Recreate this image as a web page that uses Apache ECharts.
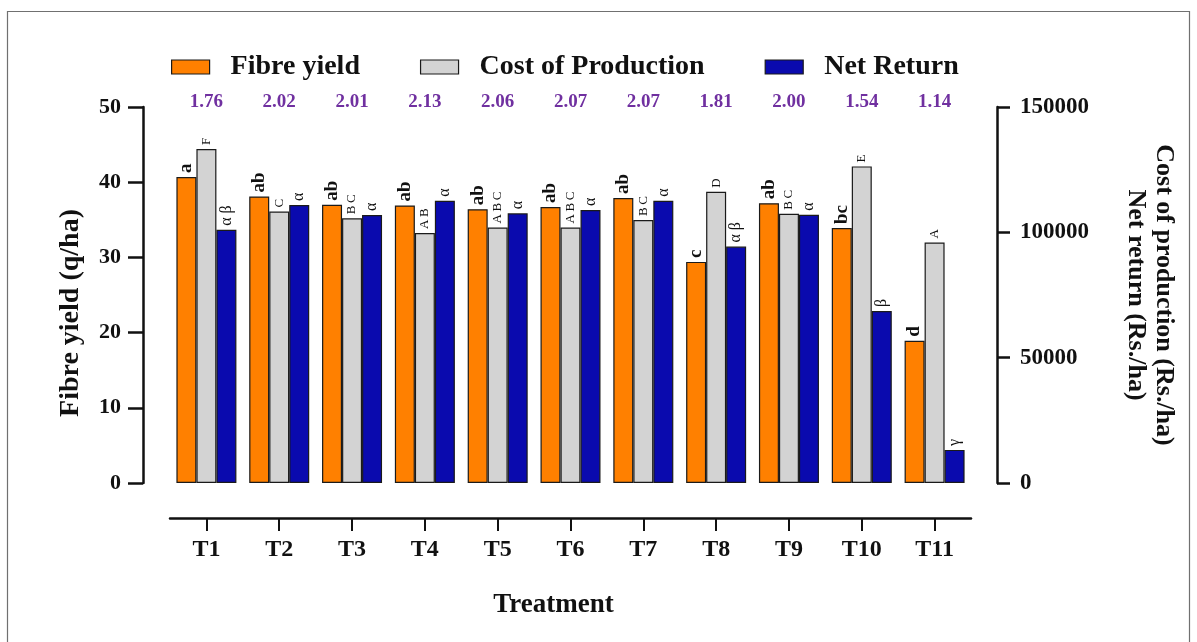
<!DOCTYPE html>
<html>
<head>
<meta charset="utf-8">
<script src="https://cdn.jsdelivr.net/npm/echarts@6/dist/echarts.min.js"></script>
<style>
  html, body { margin: 0; padding: 0; background: #ffffff; }
  #chart { width: 1197px; height: 642px; }
</style>
</head>
<body>
<div id="chart"></div>
<script>
// Treatments on the x axis
const treatments = ['T1', 'T2', 'T3', 'T4', 'T5', 'T6', 'T7', 'T8', 'T9', 'T10', 'T11'];

// Fibre yield (q/ha), left axis
const fibreYield = [40.7, 38.1, 37.0, 36.9, 36.4, 36.7, 37.9, 29.4, 37.2, 33.9, 18.9];
// Cost of production and net return (Rs./ha), right axis
const costOfProduction = [133200, 108300, 105600, 99700, 101900, 101900, 104900, 116200, 107400, 126300, 95900];
const netReturn = [101000, 110900, 106900, 112600, 107600, 108900, 112600, 94300, 107000, 68600, 13200];

// Benefit : cost ratio shown above each treatment
const bcRatio = [1.76, 2.02, 2.01, 2.13, 2.06, 2.07, 2.07, 1.81, 2.00, 1.54, 1.14];

// Significance groupings printed above the bars
const fibreLetters = ['a', 'ab', 'ab', 'ab', 'ab', 'ab', 'ab', 'c', 'ab', 'bc', 'd'];
const costLetters = ['F', 'C', 'B\u2009C', 'A\u2009B', 'A\u2009B\u2009C', 'A\u2009B\u2009C', 'B\u2009C', 'D', 'B\u2009C', 'E', 'A'];
const returnLetters = ['\u03b1 \u03b2', '\u03b1', '\u03b1', '\u03b1', '\u03b1', '\u03b1', '\u03b1', '\u03b1 \u03b2', '\u03b1', '\u03b2', '\u03b3'];

const SERIF = '"Liberation Serif", "DejaVu Serif", serif';
const INK = '#111111';

function barLabel(letters, size, weight) {
  return {
    show: true,
    position: 'top',
    rotate: 90,
    align: 'left',
    verticalAlign: 'middle',
    distance: 4,
    fontFamily: SERIF,
    fontSize: size,
    fontWeight: weight,
    color: INK,
    formatter: p => letters[p.dataIndex]
  };
}

const chart = echarts.init(document.getElementById('chart'), null, { renderer: 'canvas' });

chart.setOption({
  backgroundColor: '#ffffff',
  animation: false,
  graphic: [{
    type: 'rect',
    shape: { x: 7.5, y: 11.5, width: 1182, height: 650 },
    style: { fill: 'none', stroke: '#707070', lineWidth: 1.2 },
    silent: true
  }],
  legend: {
    left: 166,
    top: 48,
    icon: 'rect',
    itemWidth: 38,
    itemHeight: 14,
    itemGap: 60,
    itemStyle: { borderColor: '#1a1a1a', borderWidth: 1.2 },
    textStyle: {
      fontFamily: SERIF, fontSize: 28, fontWeight: 'bold', color: INK,
      padding: [0, 0, 0, 16]
    },
    data: ['Fibre yield', 'Cost of Production', 'Net Return']
  },
  grid: { left: 170, right: 226, top: 107, bottom: 159 },
  xAxis: [{
    type: 'category',
    data: treatments,
    position: 'bottom',
    offset: 35,
    axisLine: { show: true, onZero: false, lineStyle: { color: INK, width: 2.5 } },
    axisTick: { show: true, inside: false, alignWithLabel: true, length: 13, lineStyle: { color: INK, width: 2 } },
    axisLabel: { fontFamily: SERIF, fontSize: 24, fontWeight: 'bold', color: INK, margin: 20 },
    name: 'Treatment',
    nameLocation: 'middle',
    nameGap: 74,
    nameTextStyle: { fontFamily: SERIF, fontSize: 27, fontWeight: 'bold', color: INK, padding: [0, 34, 0, 0] }
  }, {
    type: 'category',
    data: bcRatio.map(v => v.toFixed(2)),
    position: 'top',
    offset: -6,
    axisLine: { show: false },
    axisTick: { show: false },
    axisLabel: { fontFamily: SERIF, fontSize: 19, fontWeight: 'bold', color: '#7030A0', margin: 1 }
  }],
  yAxis: [{
    type: 'value',
    min: 0,
    max: 50,
    interval: 10,
    position: 'left',
    offset: 27,
    splitLine: { show: false },
    axisLine: { show: true, onZero: false, lineStyle: { color: INK, width: 2.5 } },
    axisTick: { show: true, length: 15, lineStyle: { color: INK, width: 2.5 } },
    axisLabel: { fontFamily: SERIF, fontSize: 22, fontWeight: 'bold', color: INK, margin: 22 },
    name: 'Fibre yield (q/ha)',
    nameLocation: 'middle',
    nameGap: 58,
    nameRotate: 90,
    nameTextStyle: { fontFamily: SERIF, fontSize: 28, fontWeight: 'bold', color: INK, padding: [0, 36, 0, 0] }
  }, {
    type: 'value',
    min: 0,
    max: 150000,
    interval: 50000,
    position: 'right',
    offset: 26,
    splitLine: { show: false },
    axisLine: { show: true, onZero: false, lineStyle: { color: INK, width: 2.5 } },
    axisTick: { show: true, length: 13, lineStyle: { color: INK, width: 2.5 } },
    axisLabel: { fontFamily: SERIF, fontSize: 23, fontWeight: 'bold', color: INK, margin: 23, formatter: v => String(v) },
    name: 'Cost of production (Rs./ha)\nNet return (Rs./ha)',
    nameLocation: 'middle',
    nameGap: 125,
    nameRotate: -90,
    nameTextStyle: { fontFamily: SERIF, fontSize: 26, fontWeight: 'bold', color: INK, lineHeight: 28, align: 'center' }
  }],
  series: [{
    name: 'Fibre yield',
    type: 'bar',
    yAxisIndex: 0,
    barWidth: 20,
    barGap: '0%',
    data: fibreYield,
    itemStyle: { color: '#FF8000', borderColor: '#1a1a1a', borderWidth: 1.2 },
    label: barLabel(fibreLetters, 19, 'bold')
  }, {
    name: 'Cost of Production',
    type: 'bar',
    yAxisIndex: 1,
    barWidth: 20,
    barGap: '0%',
    data: costOfProduction,
    itemStyle: { color: '#D3D3D3', borderColor: '#1a1a1a', borderWidth: 1.2 },
    label: barLabel(costLetters, 13, 'normal')
  }, {
    name: 'Net Return',
    type: 'bar',
    yAxisIndex: 1,
    barWidth: 20,
    barGap: '0%',
    data: netReturn,
    itemStyle: { color: '#0A0AAE', borderColor: '#1a1a1a', borderWidth: 1.2 },
    label: barLabel(returnLetters, 16, 'normal')
  }]
});
</script>
</body>
</html>
